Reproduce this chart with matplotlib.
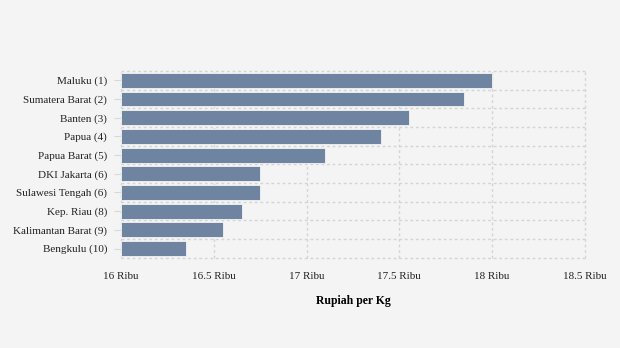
import matplotlib.pyplot as plt
import numpy as np

plt.rcParams['font.family'] = ['Liberation Serif', 'DejaVu Serif']

# Harga rata-rata per provinsi (Rupiah per Kg)
provinsi = ['Maluku (1)', 'Sumatera Barat (2)', 'Banten (3)', 'Papua (4)',
            'Papua Barat (5)', 'DKI Jakarta (6)', 'Sulawesi Tengah (6)',
            'Kep. Riau (8)', 'Kalimantan Barat (9)', 'Bengkulu (10)']
harga = [18000, 17850, 17550, 17400, 17100, 16750, 16750, 16650, 16550, 16350]
xticks = [16000, 16500, 17000, 17500, 18000, 18500]
xticklabels = ['16 Ribu', '16.5 Ribu', '17 Ribu', '17.5 Ribu', '18 Ribu', '18.5 Ribu']

bg = '#f4f4f4'
fig = plt.figure(figsize=(6.2, 3.48), dpi=100, facecolor=bg)
ax = fig.add_axes([0.195, 0.259, 0.7485, 0.537], facecolor=bg)

y = np.arange(len(provinsi))
base = 16000
ax.barh(y, np.array(harga) - base, left=base, height=0.8,
        color='#6e84a0', edgecolor='#f4f4f4', linewidth=0.6, zorder=3)

ax.set_xlim(16000, 18500)
ax.set_ylim(len(provinsi) - 0.5, -0.5)
ax.set_xticks(xticks)
ax.set_xticklabels(xticklabels, fontsize=8, color='#222222')
ax.set_yticks(y)
ax.set_yticklabels(provinsi, fontsize=8, color='#222222')
ax.set_yticks(np.arange(-0.5, len(provinsi)), minor=True)

ax.grid(True, which='major', axis='x', color='#d4d4d4', linestyle=(0, (2, 2)), linewidth=1)
ax.grid(True, which='minor', axis='y', color='#d4d4d4', linestyle=(0, (2, 2)), linewidth=1)
for t in ax.xaxis.get_major_ticks() + ax.yaxis.get_minor_ticks():
    t.gridline.set_clip_on(False)
ax.tick_params(axis='x', length=0, pad=10)
ax.tick_params(axis='y', which='major', length=5, color='#d8d8d8', pad=5)
ax.tick_params(axis='y', which='minor', length=0)
for s in ax.spines.values():
    s.set_visible(False)

ax.set_xlabel('Rupiah per Kg', fontsize=8.5, fontweight='bold', labelpad=10)

plt.savefig('out.png', dpi=100, facecolor=bg)
